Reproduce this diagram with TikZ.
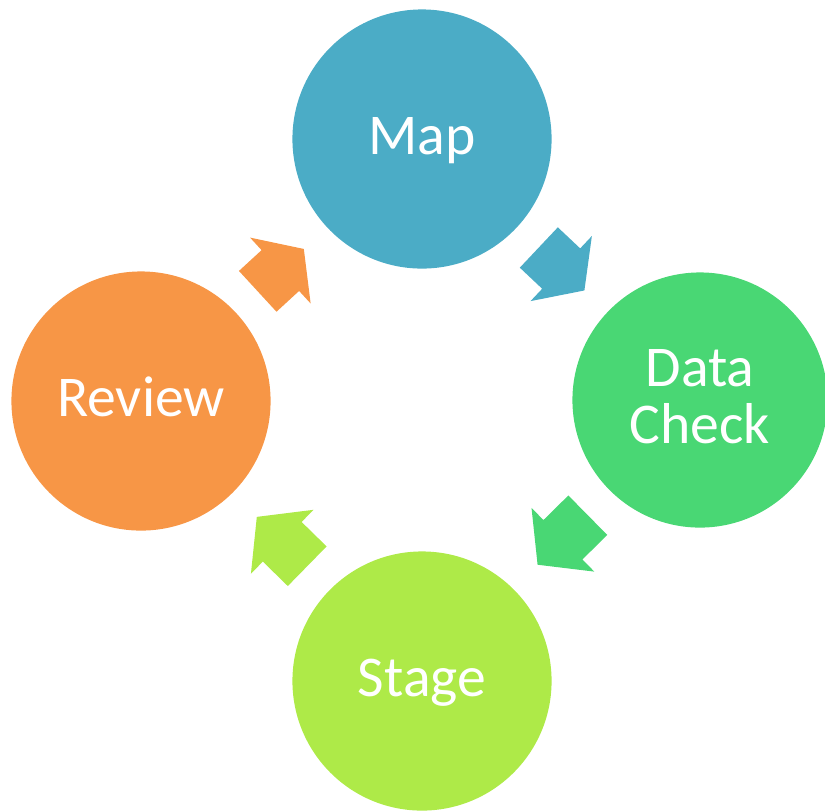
\documentclass[tikz,border=0pt]{standalone}
\usepackage{fontspec}
\setmainfont{Carlito}
\usetikzlibrary{shapes}

\definecolor{mapblue}{RGB}{75,172,198}
\definecolor{checkgreen}{RGB}{73,215,116}
\definecolor{stagelime}{RGB}{174,234,72}
\definecolor{revieworange}{RGB}{247,150,70}

\begin{document}
\begin{tikzpicture}[x=0.01cm, y=-0.01cm,
  stepcircle/.style={circle, fill=#1, minimum size=2.59cm, inner sep=0pt, text=white,
    font=\fontsize{16.4}{16}\selectfont, text height=0.36cm, text depth=0.06cm},
  cyclearrow/.style={single arrow, fill=#1, inner xsep=0pt, inner ysep=0.27cm, minimum width=0.88cm,
    single arrow head extend=0.17cm, minimum height=0.626cm, single arrow tip angle=109, anchor=tail}
]
\useasboundingbox (0,0) rectangle (825,811);

% Map
\node[stepcircle=mapblue] (map) at (422,139) {Map};

% Data Check
\node[stepcircle=checkgreen, minimum size=2.55cm, align=center, text height=0.86cm, text depth=0cm] (check) at (700,400) {Data\\Check};

% Stage
\node[stepcircle=stagelime] (stage) at (422,681) {Stage};

% Review
\node[stepcircle=revieworange] (review) at (141,401) {Review};

% Pfeile
\node[cyclearrow=mapblue, rotate=-43.3] (maparrow) at (538.3,247) {};
\node[cyclearrow=checkgreen, rotate=224.6, minimum height=0.705cm, single arrow tip angle=103] (checkarrow) at (588.3,514.7) {};
\node[cyclearrow=stagelime, rotate=135.6, minimum height=0.705cm, single arrow tip angle=103] (stagearrow) at (307.7,566.7) {};
\node[cyclearrow=revieworange, rotate=42.6] (reviewarrow) at (257.2,291.8) {};
\end{tikzpicture}
\end{document}
